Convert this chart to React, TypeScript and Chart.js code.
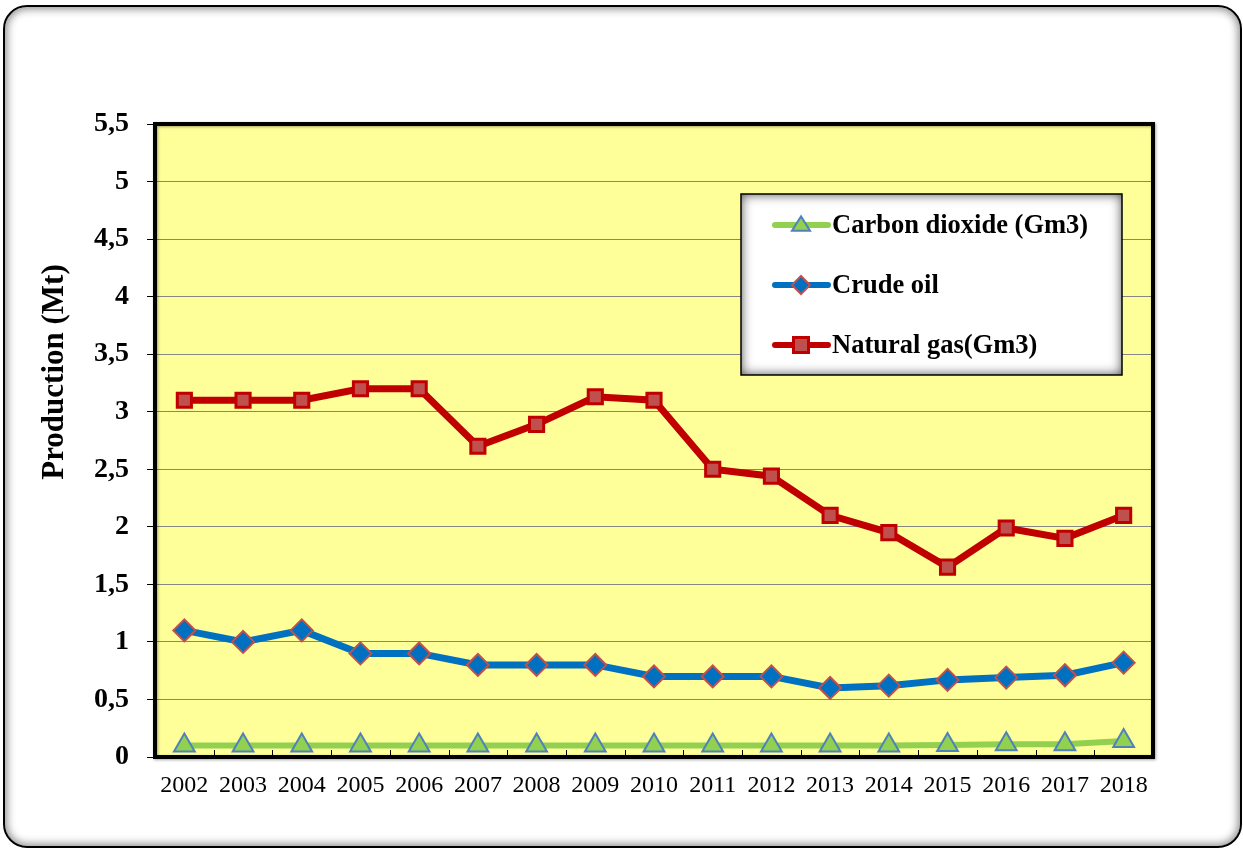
import React, { useEffect, useRef } from "react";
import { Chart, registerables } from "chart.js";

Chart.register(...registerables);

const years = ["2002","2003","2004","2005","2006","2007","2008","2009","2010","2011","2012","2013","2014","2015","2016","2017","2018"];
const carbonDioxide = [0.1,0.1,0.1,0.1,0.1,0.1,0.1,0.1,0.1,0.1,0.1,0.1,0.1,0.105,0.11,0.11,0.14];
const crudeOil = [1.1,1.0,1.1,0.9,0.9,0.8,0.8,0.8,0.7,0.7,0.7,0.6,0.62,0.67,0.69,0.71,0.82];
const naturalGas = [3.1,3.1,3.1,3.2,3.2,2.7,2.89,3.13,3.1,2.5,2.44,2.1,1.95,1.65,1.99,1.9,2.1];
const yTickLabels = ["0","0,5","1","1,5","2","2,5","3","3,5","4","4,5","5","5,5"];
const legendLabels = ["Carbon dioxide (Gm3)", "Crude oil", "Natural gas(Gm3)"];
const yTitle = "Production (Mt)";

const SERIF = "'Liberation Serif', 'Times New Roman', serif";

function drawMarker(ctx: CanvasRenderingContext2D, style: string, x: number, y: number, r: number, fill: string, stroke: string, lw: number) {
  ctx.save();
  ctx.fillStyle = fill;
  ctx.strokeStyle = stroke;
  ctx.lineWidth = lw;
  ctx.beginPath();
  if (style === "triangle") {
    const h = r * 1.6;
    ctx.moveTo(x, y - h * 0.6);
    ctx.lineTo(x + r, y + h * 0.4);
    ctx.lineTo(x - r, y + h * 0.4);
    ctx.closePath();
  } else if (style === "rectRot") {
    ctx.moveTo(x, y - r);
    ctx.lineTo(x + r, y);
    ctx.lineTo(x, y + r);
    ctx.lineTo(x - r, y);
    ctx.closePath();
  } else {
    ctx.rect(x - r, y - r, 2 * r, 2 * r);
  }
  ctx.fill();
  ctx.stroke();
  ctx.restore();
}

const framePlugin = {
  id: "framePlugin",
  beforeDraw(chart: any) {
    const { ctx, chartArea: a } = chart;
    ctx.save();
    ctx.fillStyle = "#FFFF99";
    ctx.fillRect(a.left, a.top, a.right - a.left, a.bottom - a.top);
    ctx.restore();
  },
  afterDraw(chart: any) {
    const { ctx, chartArea: a } = chart;
    const xs = chart.scales.x;
    ctx.save();
    // y axis title
    ctx.translate(55, 372);
    ctx.rotate(-Math.PI / 2);
    ctx.fillStyle = "#000";
    ctx.font = `bold 31px ${SERIF}`;
    ctx.textAlign = "center";
    ctx.textBaseline = "middle";
    ctx.fillText(yTitle, 0, 0);
    ctx.restore();

    ctx.save();
    // upward tick marks on x axis at category boundaries
    ctx.strokeStyle = "#000";
    ctx.lineWidth = 1;
    for (let i = 1; i < years.length; i++) {
      const px = Math.round((xs.getPixelForValue(i - 1) + xs.getPixelForValue(i)) / 2) + 0.5;
      ctx.beginPath();
      ctx.moveTo(px, a.bottom);
      ctx.lineTo(px, a.bottom - 7);
      ctx.stroke();
    }
    // plot border
    ctx.shadowColor = "rgba(0,0,0,0.35)";
    ctx.shadowBlur = 3;
    ctx.shadowOffsetX = 1;
    ctx.shadowOffsetY = 1;
    ctx.lineWidth = 4;
    ctx.strokeStyle = "#000";
    ctx.strokeRect(a.left, a.top, a.right - a.left, a.bottom - a.top);
    ctx.restore();

    // legend box
    const lx = 741, ly = 194, lw = 381, lh = 181;
    ctx.save();
    ctx.fillStyle = "#fff";
    ctx.fillRect(lx, ly, lw, lh);
    ctx.beginPath();
    ctx.rect(lx, ly, lw, lh);
    ctx.clip();
    ctx.shadowColor = "rgba(0,0,0,0.75)";
    ctx.shadowBlur = 12;
    ctx.lineWidth = 12;
    ctx.strokeStyle = "#000";
    ctx.strokeRect(lx - 6, ly - 6, lw + 12, lh + 12);
    ctx.restore();
    ctx.save();
    ctx.lineWidth = 1.5;
    ctx.strokeStyle = "#000";
    ctx.strokeRect(lx, ly, lw, lh);
    ctx.restore();

    const items = [
      { color: "#92D050", style: "triangle", fill: "#92D050", stroke: "#4F81BD", r: 9, blw: 2 },
      { color: "#0070C0", style: "rectRot", fill: "#0070C0", stroke: "#C0504D", r: 9, blw: 2 },
      { color: "#C00000", style: "rect", fill: "#C0504D", stroke: "#C00000", r: 7.5, blw: 3 },
    ];
    const rowsY = [225, 285, 345];
    items.forEach((it, i) => {
      const y = rowsY[i];
      ctx.save();
      ctx.strokeStyle = it.color;
      ctx.lineWidth = 6;
      ctx.lineCap = "round";
      ctx.beginPath();
      ctx.moveTo(775, y);
      ctx.lineTo(828, y);
      ctx.stroke();
      ctx.restore();
      drawMarker(ctx, it.style, 801, y, it.r, it.fill, it.stroke, it.blw);
      ctx.save();
      ctx.fillStyle = "#000";
      ctx.font = `bold 26.5px ${SERIF}`;
      ctx.textBaseline = "middle";
      ctx.textAlign = "left";
      ctx.fillText(legendLabels[i], 832, y + 1);
      ctx.restore();
    });
  },
};

export default function App() {
  const ref = useRef<HTMLCanvasElement | null>(null);
  useEffect(() => {
    document.body.style.margin = "0";
    const canvas = ref.current!;
    const chart = new Chart(canvas, {
      type: "line",
      data: {
        labels: years,
        datasets: [
          {
            label: legendLabels[0],
            data: carbonDioxide,
            borderColor: "#92D050",
            backgroundColor: "#92D050",
            borderWidth: 6,
            pointStyle: "triangle",
            pointRadius: 12,
            pointBackgroundColor: "#92D050",
            pointBorderColor: "#4F81BD",
            pointBorderWidth: 2,
            tension: 0,
          },
          {
            label: legendLabels[1],
            data: crudeOil,
            borderColor: "#0070C0",
            backgroundColor: "#0070C0",
            borderWidth: 7,
            pointStyle: "rectRot",
            pointRadius: 11,
            pointBackgroundColor: "#0070C0",
            pointBorderColor: "#C0504D",
            pointBorderWidth: 2,
            tension: 0,
          },
          {
            label: legendLabels[2],
            data: naturalGas,
            borderColor: "#C00000",
            backgroundColor: "#C0504D",
            borderWidth: 7,
            pointStyle: "rect",
            pointRadius: 10,
            pointBackgroundColor: "#C0504D",
            pointBorderColor: "#C00000",
            pointBorderWidth: 3,
            tension: 0,
          },
        ],
      },
      options: {
        animation: false,
        responsive: false,
        devicePixelRatio: 1,
        layout: { padding: { left: 40, right: 90, top: 124, bottom: 0 } },
        plugins: { legend: { display: false }, tooltip: { enabled: false } },
        scales: {
          x: {
            offset: true,
            grid: { display: false, drawTicks: false },
            border: { display: false },
            ticks: {
              color: "#000",
              padding: 14,
              maxRotation: 0,
              autoSkip: false,
              font: { family: SERIF, size: 24, weight: "normal" },
            },
            afterFit: (s: any) => { s.height = 93; },
          },
          y: {
            min: 0,
            max: 5.5,
            ticks: {
              stepSize: 0.5,
              color: "#000",
              padding: 18,
              font: { family: SERIF, size: 28, weight: "bold" },
              callback: (_v: any, i: number) => yTickLabels[i],
            },
            grid: { color: "#868686", lineWidth: 1, tickColor: "#000", tickLength: 8, drawTicks: true },
            border: { display: false },
            title: { display: false },
            afterFit: (s: any) => { s.width = 115; },
          },
        },
      },
      plugins: [framePlugin],
    } as any);
    return () => chart.destroy();
  }, []);

  return (
    <div style={{ position: "absolute", left: 0, top: 0, width: 1243, height: 850, background: "#fff" }}>
      <div
        style={{
          position: "absolute",
          left: 3,
          top: 5,
          width: 1235,
          height: 839,
          border: "2px solid #000",
          borderRadius: 24,
          boxShadow: "inset 0 0 9px 2px rgba(0,0,0,0.45)",
          background: "#fff",
        }}
      />
      <canvas ref={ref} width={1243} height={850} style={{ position: "absolute", left: 0, top: 0, width: 1243, height: 850 }} />
    </div>
  );
}
